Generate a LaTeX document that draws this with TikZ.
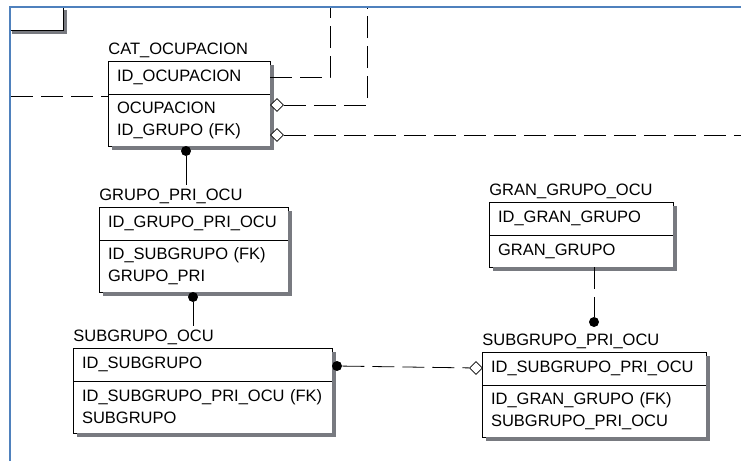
\documentclass[tikz,border=0pt]{standalone}
\usepackage{fontspec}
\setmainfont{Liberation Sans}
\usetikzlibrary{positioning,shapes.geometric}

\definecolor{frameblue}{RGB}{79,129,189}
\definecolor{shadowtint}{RGB}{120,122,128}

\begin{document}
\begin{tikzpicture}[x=1pt,y=-1pt,line width=0.8pt,
  every node/.style={font=\fontsize{16.5}{22}\selectfont},
  keyrow/.style={draw, fill=white, anchor=north west, outer sep=0pt,
    minimum height=33pt, inner xsep=9pt, inner ysep=0pt, align=left},
  attrrow/.style={keyrow, minimum height=52pt},
  tabname/.style={anchor=base west, inner sep=0pt},
  tabshadow/.style={fill=shadowtint, draw=none},
  link/.style={dash pattern=on 22pt off 8pt},
  dot/.style={circle, fill, inner sep=0pt, minimum size=10pt},
  diam/.style={diamond, draw, fill=white, inner sep=0pt, minimum size=13pt}]
  \useasboundingbox (0,0) rectangle (741,461);

  % frame and the corner of the table above
  \draw[frameblue, line width=2.5pt] (10,461) -- (10,7) -- (741,7);
  \path[tabshadow] (63.4,10) rectangle (67.4,34.4);
  \path[tabshadow] (12,30.4) rectangle (67.4,34.4);
  \draw (63,8) -- (63,30) -- (11,30);

  % tables
  \node[keyrow, text width=144pt] (catK) at (108,61) {ID\_OCUPACION};
  \node[attrrow, text width=144pt, below=0pt of catK] (catA) {OCUPACION\\ID\_GRUPO (FK)};
  \node[tabname] (catT) at ([yshift=7pt]catK.north west) {CAT\_OCUPACION};

  \node[keyrow, text width=171pt] (grupoK) at (99,207) {ID\_GRUPO\_PRI\_OCU};
  \node[attrrow, text width=171pt, below=0pt of grupoK] (grupoA) {ID\_SUBGRUPO (FK)\\GRUPO\_PRI};
  \node[tabname] (grupoT) at ([yshift=7pt]grupoK.north west) {GRUPO\_PRI\_OCU};

  \node[keyrow, text width=241pt] (subK) at (73,348) {ID\_SUBGRUPO};
  \node[attrrow, text width=241pt, below=0pt of subK] (subA) {ID\_SUBGRUPO\_PRI\_OCU (FK)\\SUBGRUPO};
  \node[tabname] (subT) at ([yshift=7pt]subK.north west) {SUBGRUPO\_OCU};

  \node[keyrow, text width=166pt] (granK) at (489,202) {ID\_GRAN\_GRUPO};
  \node[keyrow, text width=166pt, minimum height=32pt, below=0pt of granK] (granA) {GRAN\_GRUPO};
  \node[tabname] (granT) at ([yshift=7pt]granK.north west) {GRAN\_GRUPO\_OCU};

  \node[keyrow, text width=206pt] (subpriK) at (482,352) {ID\_SUBGRUPO\_PRI\_OCU};
  \node[attrrow, text width=206pt, below=0pt of subpriK] (subpriA) {ID\_GRAN\_GRUPO (FK)\\SUBGRUPO\_PRI\_OCU};
  \node[tabname] (subpriT) at ([yshift=7pt]subpriK.north west) {SUBGRUPO\_PRI\_OCU};

  % shadows, right and bottom strips
  \foreach \k/\a in {catK/catA, grupoK/grupoA, subK/subA, granK/granA, subpriK/subpriA} {
    \path[tabshadow] ([xshift=0.4pt,yshift=-4pt]\k.north east) rectangle ([xshift=4.4pt,yshift=-4.4pt]\a.south east);
    \path[tabshadow] ([xshift=4pt,yshift=-0.4pt]\a.south west) rectangle ([xshift=4.4pt,yshift=-4.4pt]\a.south east);
  }

  % relationship ends
  \node[dot] (catD) at (186,151) {};
  \node[dot] (grupoD) at (193,297) {};
  \node[dot] (subD) at (337,366) {};
  \node[dot] (subpriD) at (594,322) {};
  \node[diam] (d1) at (277,105) {};
  \node[diam] (d2) at (277,135) {};
  \node[diam] (d3) at (476,368) {};

  \coordinate (leftend) at (11,96);
  \coordinate (topA) at (330,8);
  \coordinate (topB) at (367,8);
  \coordinate (rightend) at (741,135);

  % connectors
  \draw[link] (leftend) -- (leftend -| catA.west);
  \draw[link] (catK.east) -- (catK.east -| topA) -- (topA);
  \draw[link] (d1) -- (d1 -| topB) -- (topB);
  \draw[link] (d2) -- (rightend);
  \draw (catD) -- ([yshift=3pt]catD |- grupoT.north);
  \draw (grupoD) -- ([yshift=3pt]grupoD |- subT.north);
  \draw[link] (subD) -- (d3);
  \draw[link] (subpriD |- granA.south) -- (subpriD);
\end{tikzpicture}
\end{document}
